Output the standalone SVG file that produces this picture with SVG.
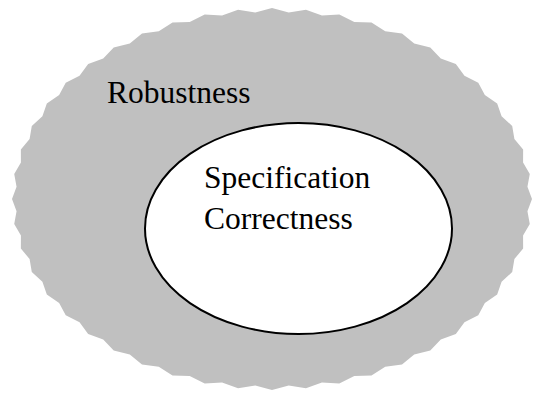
<svg xmlns="http://www.w3.org/2000/svg" width="538" height="394" viewBox="0 0 538 394">
<style>
.t{font-family:"Liberation Serif","Times New Roman",serif;font-size:31.5px;fill:#000}
</style>
<rect width="538" height="394" fill="#fff"/>
<g id="robustness">
<polygon fill="#c0c0c0" points="532,199 527.45,186.77 529.77,174.07 523.08,162.52 523.14,149.57 514.41,138.89 512.21,125.91 501.6,116.29 497.17,103.5 484.86,95.11 478.27,82.73 464.47,75.7 455.85,63.94 440.79,58.41 430.28,47.47 414.23,43.52 402,33.59 385.23,31.29 371.5,22.54 354.29,21.92 339.29,14.51 321.94,15.59 305.94,9.63 288.74,12.4 272,8 255.26,12.4 238.06,9.63 222.06,15.59 204.71,14.51 189.71,21.92 172.5,22.54 158.77,31.29 142,33.59 129.77,43.52 113.72,47.47 103.21,58.41 88.15,63.94 79.53,75.7 65.73,82.73 59.14,95.11 46.83,103.5 42.4,116.29 31.79,125.91 29.59,138.89 20.86,149.57 20.92,162.52 14.23,174.07 16.55,186.77 12,199 16.55,211.23 14.23,223.93 20.92,235.48 20.86,248.43 29.59,259.11 31.79,272.09 42.4,281.71 46.83,294.5 59.14,302.89 65.73,315.27 79.53,322.3 88.15,334.06 103.21,339.59 113.72,350.53 129.77,354.48 142,364.41 158.77,366.71 172.5,375.46 189.71,376.08 204.71,383.49 222.06,382.41 238.06,388.37 255.26,385.6 272,390 288.74,385.6 305.94,388.37 321.94,382.41 339.29,383.49 354.29,376.08 371.5,375.46 385.23,366.71 402,364.41 414.23,354.48 430.28,350.53 440.79,339.59 455.85,334.06 464.47,322.3 478.27,315.27 484.86,302.89 497.17,294.5 501.6,281.71 512.21,272.09 514.41,259.11 523.14,248.43 523.08,235.48 529.77,223.93 527.45,211.23"/>
<text class="t" x="107" y="103">Robustness</text>
</g>
<g id="specification">
<ellipse cx="298.5" cy="228.5" rx="153.5" ry="105.5" fill="#fff" stroke="#000" stroke-width="2"/>
<text class="t" x="204" y="188">Specification</text>
<text class="t" x="204" y="229">Correctness</text>
</g>
<g id="connectors"/>
</svg>
